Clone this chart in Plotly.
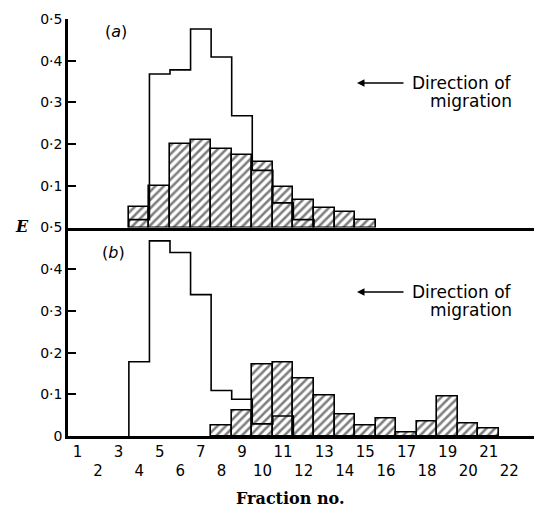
import plotly.graph_objects as go

# ---- data ----
frac_a_hatched = list(range(4, 16))
e_a_hatched = [0.05, 0.10, 0.20, 0.21, 0.189, 0.173, 0.158, 0.097, 0.067, 0.047, 0.037, 0.017]
frac_a_open = list(range(4, 13))
e_a_open = [0.019, 0.368, 0.378, 0.476, 0.409, 0.268, 0.137, 0.059, 0.019]

frac_b_hatched = list(range(8, 22))
e_b_hatched = [0.024, 0.062, 0.172, 0.177, 0.137, 0.097, 0.051, 0.026, 0.041, 0.008, 0.034, 0.094, 0.030, 0.019]
frac_b_open = list(range(4, 12))
e_b_open = [0.178, 0.468, 0.44, 0.339, 0.109, 0.088, 0.029, 0.048]

x_ticks = list(range(1, 23))
x_ticktext = [str(n) if n % 2 == 1 else "<br>" + str(n) for n in x_ticks]
y_ticks_a = [0.1, 0.2, 0.3, 0.4, 0.5]
y_ticktext_a = ["0·1", "0·2", "0·3", "0·4", "0·5"]
y_ticks_b = [0, 0.1, 0.2, 0.3, 0.4, 0.5]
y_ticktext_b = ["0", "0·1", "0·2", "0·3", "0·4", "0·5"]


def step_outline(fracs, vals):
    xs, ys = [fracs[0] - 0.5], [0]
    for f, v in zip(fracs, vals):
        xs += [f - 0.5, f + 0.5]
        ys += [v, v]
    xs.append(fracs[-1] + 0.5)
    ys.append(0)
    return xs, ys


pattern = dict(shape="/", fgcolor="black", bgcolor="white", size=6, solidity=0.42)
fig = go.Figure()
for fr, ev, xa, ya in [(frac_a_hatched, e_a_hatched, "x2", "y2"),
                       (frac_b_hatched, e_b_hatched, "x", "y")]:
    fig.add_trace(go.Bar(x=fr, y=ev, width=1, xaxis=xa, yaxis=ya,
                         marker=dict(color="white", pattern=pattern,
                                     line=dict(color="black", width=1.6)),
                         showlegend=False))
for fr, ev, xa, ya in [(frac_a_open, e_a_open, "x2", "y2"),
                       (frac_b_open, e_b_open, "x", "y")]:
    xs, ys = step_outline(fr, ev)
    fig.add_trace(go.Scatter(x=xs, y=ys, mode="lines", xaxis=xa, yaxis=ya,
                             line=dict(color="black", width=1.6), showlegend=False))

W, H = 534, 508
L, R, T, B = 68, 0, 19, 72
def px(x):
    return (x - L) / (W - L - R)
def py(y):
    return (H - B - y) / (H - T - B)

tickfont = dict(family="DejaVu Sans", size=14, color="black")
xr = [0.54, 23.2]
fig.update_layout(
    width=W, height=H, margin=dict(l=L, r=R, t=T, b=B, autoexpand=False),
    plot_bgcolor="white", paper_bgcolor="white", bargap=0, barmode="overlay",
    xaxis=dict(domain=[0, 1], range=xr, tickvals=x_ticks, ticktext=x_ticktext,
               ticks="", tickangle=0, showgrid=False, zeroline=False, showline=True,
               linecolor="black", linewidth=2.5,
               tickfont=dict(family="DejaVu Sans", size=15, color="black"),
               anchor="y"),
    xaxis2=dict(domain=[0, 1], range=xr, showticklabels=False, ticks="",
                showgrid=False, zeroline=False, showline=True,
                linecolor="black", linewidth=2.5, anchor="y2", matches="x"),
    yaxis=dict(domain=[0, 0.5], range=[0, 0.5], tickvals=y_ticks_b, ticktext=y_ticktext_b,
               ticks="inside", ticklen=8, tickwidth=2, tickcolor="black",
               showgrid=False, zeroline=False, showline=True, linecolor="black",
               linewidth=2.5, tickfont=tickfont, anchor="x"),
    yaxis2=dict(domain=[0.5, 1], range=[0, 0.5], tickvals=y_ticks_a, ticktext=y_ticktext_a,
                ticks="inside", ticklen=8, tickwidth=2, tickcolor="black",
                showgrid=False, zeroline=False, showline=True, linecolor="black",
                linewidth=2.5, tickfont=tickfont, anchor="x2"),
)

ann = []
sans = dict(family="DejaVu Sans", size=17, color="black")
for y_dir in [83, 292]:
    ann.append(dict(x=px(357), y=py(y_dir), xref="paper", yref="paper", text="",
                    showarrow=True, ax=48, ay=0, arrowhead=2, arrowsize=1,
                    arrowwidth=1.5, arrowcolor="black", standoff=0, startstandoff=0))
    ann.append(dict(x=px(514), y=py(y_dir), xref="paper", yref="paper",
                    text="Direction of", showarrow=False, xanchor="right",
                    yanchor="middle", font=sans))
    ann.append(dict(x=px(514), y=py(y_dir + 17.5), xref="paper", yref="paper",
                    text="migration", showarrow=False, xanchor="right",
                    yanchor="middle", font=sans))
ann.append(dict(x=px(116), y=py(31), xref="paper", yref="paper", text="(<i>a</i>)",
                showarrow=False, xanchor="center", yanchor="middle",
                font=dict(family="DejaVu Sans", size=16, color="black")))
ann.append(dict(x=px(113), y=py(252), xref="paper", yref="paper", text="(<i>b</i>)",
                showarrow=False, xanchor="center", yanchor="middle",
                font=dict(family="DejaVu Sans", size=16, color="black")))
ann.append(dict(x=px(290), y=py(498), xref="paper", yref="paper", text="<b>Fraction no.</b>",
                showarrow=False, xanchor="center", yanchor="middle",
                font=dict(family="DejaVu Serif", size=16, color="black")))
ann.append(dict(x=px(22), y=py(226), xref="paper", yref="paper", text="<b><i>E</i></b>",
                showarrow=False, xanchor="center", yanchor="middle",
                font=dict(family="DejaVu Serif", size=16, color="black")))
fig.update_layout(annotations=ann)

fig.write_html("out.html", config={"displayModeBar": False},
               post_script="document.body.style.margin='0';document.body.style.overflow='hidden';")
